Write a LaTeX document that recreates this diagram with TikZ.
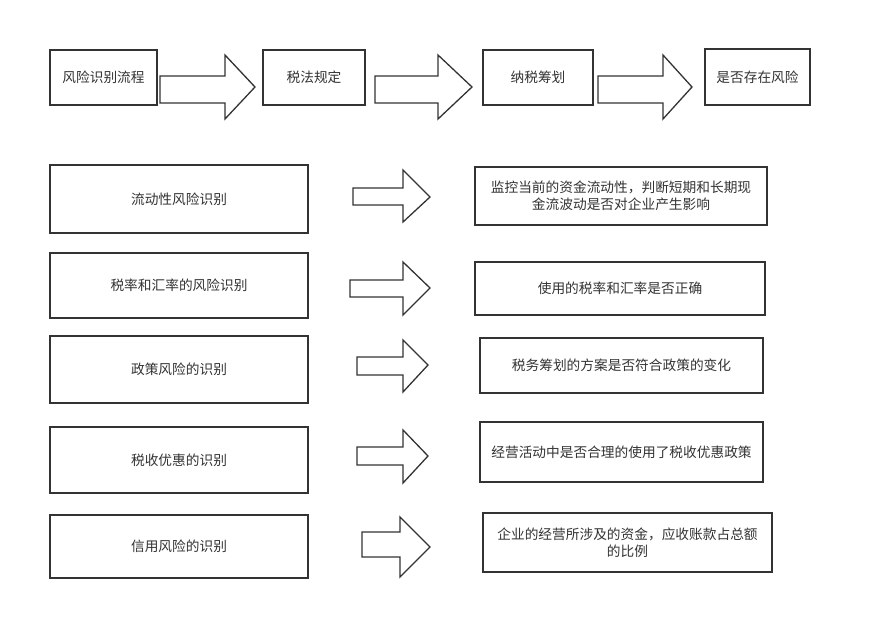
\documentclass[tikz,border=0pt]{standalone}
\usepackage{fontspec}
\newfontfamily\cjk{Noto Sans CJK SC}
\definecolor{linec}{HTML}{333333}
\definecolor{textc}{HTML}{333333}
\newcommand{\blkarrow}[8]{%
  \draw[arrowshape] (#1,#2) -- (#4,#2) -- (#4,#5) -- (#7,#8) -- (#4,#6) -- (#4,#3) -- (#1,#3) -- cycle;}
\begin{document}
\begin{tikzpicture}[x=1pt,y=-1pt,
  box/.style={draw=linec, line width=1.3pt, fill=white, text=textc,
    font=\cjk\fontsize{13.7}{17}\selectfont, align=center, inner sep=0pt},
  arrowshape/.style={draw=linec, line width=1.3pt, fill=white, line join=miter}]
\useasboundingbox (0,0) rectangle (876,643);
\fill[white] (0,0) rectangle (876,643);
% top row
\node[box, minimum width=107pt, minimum height=55pt] (t1) at (103.5,77.5) {风险识别流程};
\node[box, minimum width=102pt, minimum height=55pt] (t2) at (314,77.5) {税法规定};
\node[box, minimum width=110pt, minimum height=55pt] (t3) at (538,77.5) {纳税筹划};
\node[box, minimum width=105pt, minimum height=56pt] (t4) at (757.5,77) {是否存在风险};
\blkarrow{160}{76}{103}{225}{55}{119}{255}{87}
\blkarrow{375}{76}{103}{438}{55}{119}{472}{87}
\blkarrow{598}{76}{103}{663}{55}{119}{692}{87}
% left column
\node[box, minimum width=258pt, minimum height=68pt] (l1) at (179,199) {流动性风险识别};
\node[box, minimum width=258pt, minimum height=65pt] (l2) at (179,285.5) {税率和汇率的风险识别};
\node[box, minimum width=258pt, minimum height=67pt] (l3) at (179,369.5) {政策风险的识别};
\node[box, minimum width=258pt, minimum height=66pt] (l4) at (179,460) {税收优惠的识别};
\node[box, minimum width=258pt, minimum height=63pt] (l5) at (179,546.5) {信用风险的识别};
% right column
\node[box, minimum width=292pt, minimum height=58pt] (r1) at (621,196) {监控当前的资金流动性，判断短期和长期现\\金流波动是否对企业产生影响};
\node[box, minimum width=290pt, minimum height=53pt] (r2) at (620,288.5) {使用的税率和汇率是否正确};
\node[box, minimum width=283pt, minimum height=55pt] (r3) at (621.5,365.5) {税务筹划的方案是否符合政策的变化};
\node[box, minimum width=283pt, minimum height=60pt] (r4) at (621.5,452) {经营活动中是否合理的使用了税收优惠政策};
\node[box, minimum width=289pt, minimum height=59pt] (r5) at (627.5,542.5) {企业的经营所涉及的资金，应收账款占总额\\的比例};
% row arrows
\blkarrow{353}{188}{205}{403}{170}{222}{430}{197}
\blkarrow{350}{280}{297}{403}{262}{315}{430}{288}
\blkarrow{357}{357}{375}{403}{340}{392}{428}{365}
\blkarrow{357}{447}{465}{403}{430}{483}{428}{456}
\blkarrow{362}{532}{557}{400}{517}{577}{430}{547}
\end{tikzpicture}
\end{document}
